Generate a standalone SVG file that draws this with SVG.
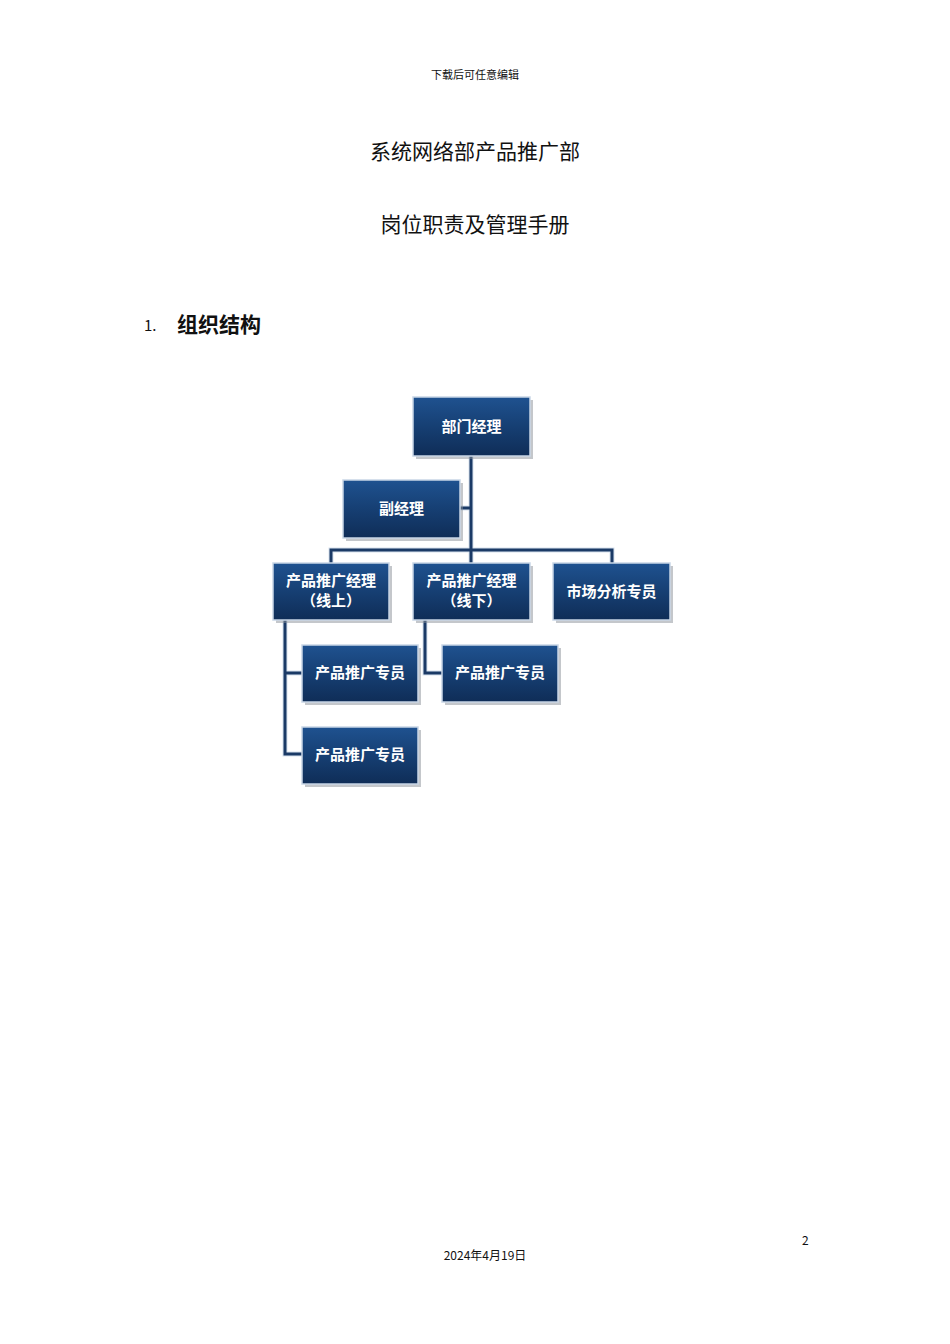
<svg xmlns="http://www.w3.org/2000/svg" width="950" height="1344" viewBox="0 0 950 1344">
<defs>
<linearGradient id="g" x1="0" y1="0" x2="0" y2="1"><stop offset="0" stop-color="#1f5290"/><stop offset="0.5" stop-color="#163f73"/><stop offset="1" stop-color="#0f2d57"/></linearGradient>
</defs>
<style>
.n rect.b{fill:url(#g);stroke:#c9d6e6;stroke-width:1.5}
.n rect.s{fill:#8a9098;opacity:0.5}
.n text{font-family:"Noto Sans CJK SC",sans-serif;font-weight:bold;font-size:15px;fill:#fff;text-anchor:middle}
.c path{fill:none;stroke:#d8e2ee;stroke-width:5}
.c path.i{stroke:#1b3a66;stroke-width:3}
.t{font-family:"Noto Sans CJK SC",sans-serif;fill:#111}
</style>
<rect width="950" height="1344" fill="#fff"/>
<text class="t" x="475" y="79" font-size="11" text-anchor="middle" fill="#444">下载后可任意编辑</text>
<text class="t" x="475" y="159" font-size="21" text-anchor="middle">系统网络部产品推广部</text>
<text class="t" x="475" y="232" font-size="21" text-anchor="middle">岗位职责及管理手册</text>
<text class="t" x="144" y="331" font-size="15" font-family="Liberation Sans,sans-serif">1.</text>
<text class="t" x="177" y="332" font-size="21" font-weight="bold">组织结构</text>
<text class="t" x="802" y="1245" font-size="12" font-family="Liberation Serif,serif">2</text>
<text class="t" x="485" y="1260" font-size="12" text-anchor="middle">2024年4月19日</text>
<g class="c" id="connectors">
<path d="M471 456V563M460 508H471M331 563V550H612V563M285 620V754H302M285 673H302M425 620V673H442"/>
<path class="i" d="M471 456V563M460 508H471M331 563V550H612V563M285 620V754H302M285 673H302M425 620V673H442"/>
</g>
<g class="n" id="n1"><rect class="s" x="416" y="400" width="117" height="59"/><rect class="b" x="413" y="397" width="117" height="59"/><text x="471.5" y="432">部门经理</text></g>
<g class="n" id="n2"><rect class="s" x="346" y="483" width="117" height="58"/><rect class="b" x="343" y="480" width="117" height="58"/><text x="401.5" y="514">副经理</text></g>
<g class="n" id="n3"><rect class="s" x="276" y="566" width="116" height="57"/><rect class="b" x="273" y="563" width="116" height="57"/><text x="331" y="586">产品推广经理</text><text x="331" y="606">（线上）</text></g>
<g class="n" id="n4"><rect class="s" x="416" y="566" width="117" height="57"/><rect class="b" x="413" y="563" width="117" height="57"/><text x="471.5" y="586">产品推广经理</text><text x="471.5" y="606">（线下）</text></g>
<g class="n" id="n5"><rect class="s" x="556" y="566" width="117" height="57"/><rect class="b" x="553" y="563" width="117" height="57"/><text x="611.5" y="597">市场分析专员</text></g>
<g class="n" id="n6"><rect class="s" x="305" y="648" width="116" height="57"/><rect class="b" x="302" y="645" width="116" height="57"/><text x="360" y="678">产品推广专员</text></g>
<g class="n" id="n7"><rect class="s" x="445" y="648" width="116" height="57"/><rect class="b" x="442" y="645" width="116" height="57"/><text x="500" y="678">产品推广专员</text></g>
<g class="n" id="n8"><rect class="s" x="305" y="730" width="116" height="57"/><rect class="b" x="302" y="727" width="116" height="57"/><text x="360" y="760">产品推广专员</text></g>
</svg>
